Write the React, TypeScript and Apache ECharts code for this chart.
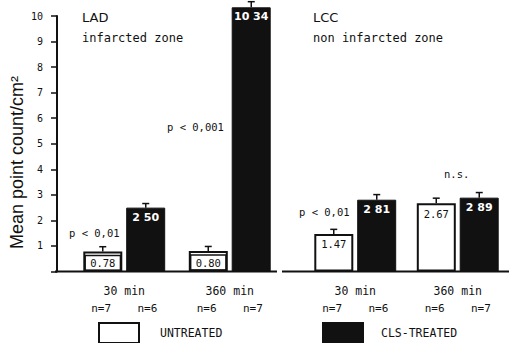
import React, { useEffect, useRef } from "react";
import * as echarts from "echarts";

const groups = ["30 min", "360 min"];
const ladUntreated = [0.78, 0.8];
const ladTreated = [2.5, 10.34];
const lccUntreated = [1.47, 2.67];
const lccTreated = [2.81, 2.89];
const ladUntreatedErr = [0.19, 0.18];
const ladTreatedErr = [0.16, 0.22];
const lccUntreatedErr = [0.18, 0.2];
const lccTreatedErr = [0.2, 0.2];
const ladUntreatedN = [7, 6];
const ladTreatedN = [6, 7];
const lccUntreatedN = [7, 6];
const lccTreatedN = [6, 7];
const yTicks = [0, 10, 1];

const INK = "#111111";
const MONO = "DejaVu Sans Mono";
const BAR_W = 39;
const HALF_PITCH = 21.5;

function untreatedData(vals: number[]) {
  return vals.map((v) =>
    v < 1
      ? {
          value: v,
          label: {
            borderColor: INK,
            borderWidth: 1.5,
            padding: [2, 5, 2, 5],
            distance: 4,
          },
        }
      : v
  );
}

function errData(u: number[], ue: number[], t: number[], te: number[]) {
  const rows: number[][] = [];
  u.forEach((v, i) => rows.push([i, 0, v, ue[i]]));
  t.forEach((v, i) => rows.push([i, 1, v, te[i]]));
  return rows;
}

function xAxisFor(gridIndex: number, nU: number[], nT: number[]) {
  return {
    gridIndex,
    type: "category",
    data: groups,
    axisLine: { show: false },
    axisTick: { show: false },
    axisLabel: {
      interval: 0,
      hideOverlap: false,
      margin: 10,
      color: INK,
      fontFamily: MONO,
      fontSize: 11.5,
      lineHeight: 18,
      formatter: (v: string, i: number) =>
        `${v}\n{n|n=${nU[i]}    n=${nT[i]}}`,
      rich: {
        n: { fontFamily: MONO, fontSize: 11, color: INK, lineHeight: 18 },
      },
    },
  };
}

function barSeries(
  name: string,
  gridIdx: number,
  data: any[],
  treated: boolean
) {
  return {
    name,
    type: "bar",
    xAxisIndex: gridIdx,
    yAxisIndex: gridIdx,
    data,
    barWidth: BAR_W,
    barGap: "10%",
    clip: false,
    itemStyle: treated
      ? { color: INK, borderColor: INK, borderWidth: 1 }
      : { color: "#ffffff", borderColor: INK, borderWidth: 2 },
    label: treated
      ? {
          show: true,
          position: "insideTop",
          distance: 4,
          color: "#ffffff",
          fontFamily: "DejaVu Sans",
          fontWeight: "bold",
          fontSize: 11,
          formatter: (p: any) => Number(p.value).toFixed(2).replace(".", " "),
        }
      : {
          show: true,
          position: "insideTop",
          distance: 5,
          color: INK,
          fontFamily: MONO,
          fontSize: 10.5,
          formatter: (p: any) => Number(p.value).toFixed(2),
        },
  };
}

function errSeries(gridIdx: number, rows: number[][]) {
  return {
    type: "custom",
    xAxisIndex: gridIdx,
    yAxisIndex: gridIdx,
    data: rows,
    clip: false,
    z: 5,
    encode: { x: 0, y: 2 },
    renderItem: (params: any, api: any) => {
      const cat = api.value(0);
      const s = api.value(1);
      const v = api.value(2);
      const e = api.value(3);
      const base = api.coord([cat, v]);
      const top = api.coord([cat, v + e]);
      const x = base[0] + (s === 0 ? -HALF_PITCH : HALF_PITCH);
      const st = { stroke: INK, lineWidth: 1.5 };
      return {
        type: "group",
        children: [
          { type: "line", shape: { x1: x, y1: base[1], x2: x, y2: top[1] }, style: st },
          { type: "line", shape: { x1: x - 3.5, y1: top[1], x2: x + 3.5, y2: top[1] }, style: st },
        ],
      };
    },
  };
}

function txt(text: string, x: number, y: number, size: number, family = MONO) {
  return {
    type: "text",
    x,
    y,
    style: {
      text,
      fill: INK,
      font: `${size}px "${family}"`,
      textAlign: "left",
      textVerticalAlign: "middle",
    },
  };
}

export default function App() {
  const ref = useRef<HTMLDivElement>(null);
  useEffect(() => {
    if (!ref.current) return;
    const chart = echarts.init(ref.current, undefined, { renderer: "svg" });
    const option: any = {
      animation: false,
      backgroundColor: "#ffffff",
      grid: [
        { left: 71.5, width: 211, top: 16, height: 255.5 },
        { left: 304, width: 213, top: 16, height: 255.5 },
      ],
      xAxis: [
        xAxisFor(0, ladUntreatedN, ladTreatedN),
        xAxisFor(1, lccUntreatedN, lccTreatedN),
      ],
      yAxis: [
        {
          gridIndex: 0,
          type: "value",
          min: yTicks[0],
          max: yTicks[1],
          interval: yTicks[2],
          offset: 14.5,
          splitLine: { show: false },
          axisLine: { show: true, lineStyle: { color: INK, width: 2 } },
          axisTick: { show: true, length: 6, lineStyle: { color: INK, width: 1.5 } },
          axisLabel: {
            margin: 14,
            color: INK,
            fontFamily: MONO,
            fontSize: 10,
            formatter: (v: number) => (v === 0 ? "" : String(v)),
          },
        },
        {
          gridIndex: 1,
          type: "value",
          min: yTicks[0],
          max: yTicks[1],
          interval: yTicks[2],
          show: false,
        },
      ],
      legend: [
        {
          data: ["UNTREATED"],
          left: 98,
          top: 322,
          padding: 0,
          itemWidth: 40,
          itemHeight: 20,
          icon: "rect",
          selectedMode: false,
          textStyle: { color: INK, fontFamily: MONO, fontSize: 11.5, padding: [0, 0, 0, 16] },
        },
        {
          data: ["CLS-TREATED"],
          left: 322,
          top: 322,
          padding: 0,
          itemWidth: 40,
          itemHeight: 20,
          icon: "rect",
          selectedMode: false,
          textStyle: { color: INK, fontFamily: MONO, fontSize: 11.5, padding: [0, 0, 0, 13] },
        },
      ],
      series: [
        barSeries("UNTREATED", 0, untreatedData(ladUntreated), false),
        barSeries("CLS-TREATED", 0, ladTreated, true),
        barSeries("UNTREATED", 1, untreatedData(lccUntreated), false),
        barSeries("CLS-TREATED", 1, lccTreated, true),
        errSeries(0, errData(ladUntreated, ladUntreatedErr, ladTreated, ladTreatedErr)),
        errSeries(1, errData(lccUntreated, lccUntreatedErr, lccTreated, lccTreatedErr)),
      ],
      graphic: [
        { type: "line", shape: { x1: 55, y1: 271.5, x2: 277, y2: 271.5 }, style: { stroke: INK, lineWidth: 2 } },
        { type: "line", shape: { x1: 282, y1: 271.5, x2: 509, y2: 271.5 }, style: { stroke: INK, lineWidth: 2 } },
        {
          type: "text",
          x: 17,
          y: 162.5,
          rotation: Math.PI / 2,
          style: {
            text: "Mean point count/cm²",
            fill: INK,
            font: '18px "Liberation Sans"',
            textAlign: "center",
            textVerticalAlign: "middle",
          },
        },
        txt("LAD", 82, 17.5, 13, "DejaVu Sans"),
        txt("infarcted zone", 82, 38, 12),
        txt("LCC", 313, 17.5, 13, "DejaVu Sans"),
        txt("non infarcted zone", 313, 38, 12),
        txt("p < 0,01", 69, 233, 10.5),
        txt("p < 0,001", 167, 127, 10.5),
        txt("p < 0,01", 299, 212, 10.5),
        txt("n.s.", 444, 174, 10.5),
      ],
    };
    chart.setOption(option);
    return () => chart.dispose();
  }, []);
  return (
    <div
      ref={ref}
      style={{ position: "fixed", left: 0, top: 0, width: 509, height: 343 }}
    />
  );
}
